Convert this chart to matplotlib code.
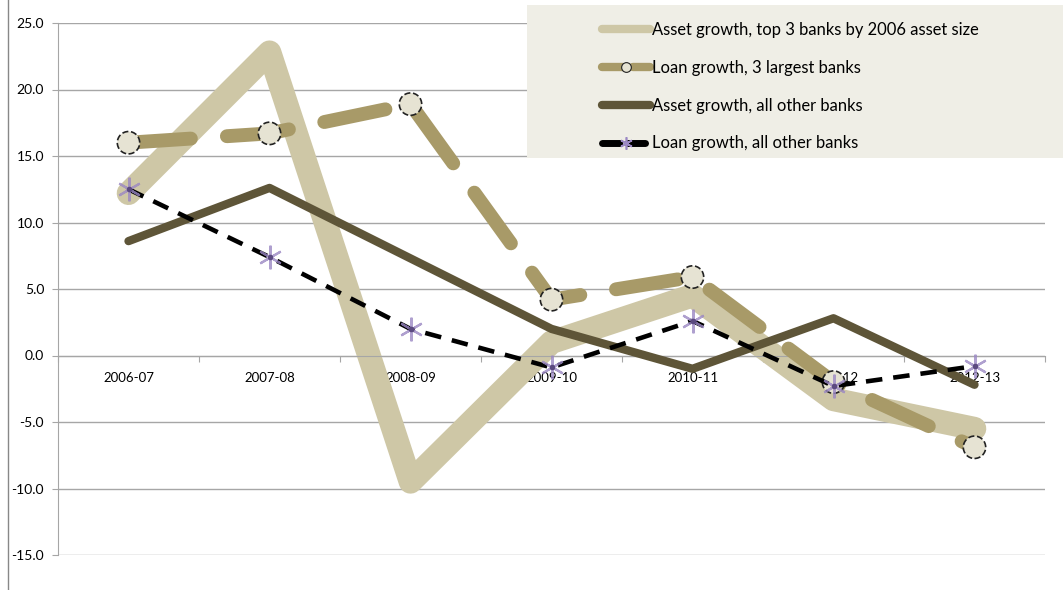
import matplotlib.pyplot as plt
import numpy as np
from matplotlib.lines import Line2D
from matplotlib.patches import Rectangle

plt.rcParams['font.family'] = ['Lato', 'DejaVu Sans']

periods = ['2006-07', '2007-08', '2008-09', '2009-10', '2010-11', '2011-12', '2012-13']
asset_top3 = [12.2, 22.8, -9.5, 1.0, 4.5, -3.3, -5.5]
loan_top3 = [16.0, 16.7, 18.9, 4.2, 5.9, -2.0, -6.9]
asset_other = [8.6, 12.6, 7.3, 2.0, -1.0, 2.8, -2.2]
loan_other = [12.5, 7.4, 2.0, -0.9, 2.6, -2.3, -0.8]

labels = ['Asset growth, top 3 banks by 2006 asset size',
          'Loan growth, 3 largest banks',
          'Asset growth, all other banks',
          'Loan growth, all other banks']

c_beige = '#CEC7A6'
c_tan = '#A89A68'
c_dark = '#5E5538'
c_fill = '#E6E3D3'
c_star = '#9B88C4'
c_grid = '#A6A6A6'

fig = plt.figure(figsize=(10.63, 5.9), dpi=100)
ax = fig.add_axes([58 / 1063, 1 - 555 / 590, (1045 - 58) / 1063, (555 - 23) / 590])
x = np.arange(len(periods))

# lines, bottom to top
ax.plot(x, asset_top3, color=c_beige, lw=17, solid_capstyle='round',
        solid_joinstyle='round', zorder=2)
ax.plot(x, loan_top3, color=c_tan, lw=10, ls=(0, (4.5, 2.6)),
        dash_capstyle='round', dash_joinstyle='round', zorder=3)
ax.scatter(x, loan_top3, s=260, facecolor=c_fill, edgecolor='#222222',
           linewidths=1.2, linestyle='--', zorder=4)
ax.plot(x, asset_other, color=c_dark, lw=6, solid_capstyle='round', zorder=5)
ax.plot(x, loan_other, color='black', lw=3.3, ls=(0, (3.6, 2.4)), zorder=6)
ax.plot(x, loan_other, ls='none', marker=(6, 2, 0), ms=17, mew=1.6,
        mec=c_star, alpha=0.8, zorder=7)
ax.plot(x, loan_other, ls='none', marker='o', ms=4, mfc='#5B4A80',
        mec='none', zorder=8)

ax.set_xlim(-0.5, len(periods) - 0.5)
ax.set_ylim(-15, 25)
ax.set_yticks(np.arange(-15, 26, 5))
ax.set_yticklabels(['%.1f' % v for v in np.arange(-15, 26, 5)], fontsize=10)
ax.yaxis.grid(True, color=c_grid, lw=1)
ax.set_axisbelow(True)

# category axis sits on zero
ax.spines['bottom'].set_position(('data', 0))
ax.set_xticks(np.arange(-0.5, len(periods), 1))
ax.set_xticklabels([])
ax.set_xticks(x, minor=True)
ax.set_xticklabels(periods, minor=True, fontsize=9.5)
ax.tick_params(axis='x', which='minor', length=0, pad=12)
ax.tick_params(axis='x', which='major', length=4, color=c_grid)
ax.tick_params(axis='y', length=4, color=c_grid, pad=6)
for s in ['top', 'right']:
    ax.spines[s].set_visible(False)
for s in ['left', 'bottom']:
    ax.spines[s].set_color(c_grid)

# outer left border line
fig.add_artist(Line2D([8 / 1063, 8 / 1063], [0, 1], color='#888888', lw=1))

# legend
fig.add_artist(Rectangle((527 / 1063, 1 - 158 / 590), (1063 - 527) / 1063, 153 / 590,
                         transform=fig.transFigure, facecolor='#EFEEE6',
                         edgecolor='none', zorder=4))
handles = [
    Line2D([], [], color=c_beige, lw=6, solid_capstyle='round'),
    Line2D([], [], color=c_tan, lw=6, ls=(0, (2.5, 1.2)), dash_capstyle='round',
           marker='o', ms=7, mfc=c_fill, mec='#222222', mew=0.8),
    Line2D([], [], color=c_dark, lw=6, solid_capstyle='round'),
    Line2D([], [], color='black', lw=5, ls=(0, (2.5, 1.2)), dash_capstyle='round',
           marker=(6, 2, 0), ms=9, mec=c_star, mew=1.2),
]
fig.legend(handles, labels, loc='upper left', bbox_to_anchor=(602 / 1063, 1 - 22 / 590),
           frameon=False, fontsize=11.9, handlelength=2.9, handletextpad=0.1,
           labelspacing=1.32, borderpad=0, borderaxespad=0)

fig.savefig('out.png', dpi=100)
